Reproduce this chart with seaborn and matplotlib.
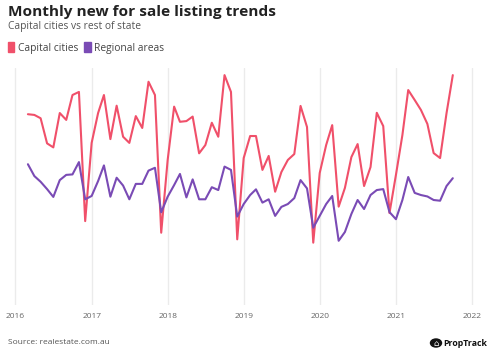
import numpy as np
import pandas as pd
import matplotlib
matplotlib.use("Agg")
import matplotlib.pyplot as plt
import matplotlib.patches as mpatches
import seaborn as sns

# monthly points, Mar 2016 .. Oct 2021 (index, y axis unlabelled in the original)
months = pd.date_range("2016-03-01", "2021-10-01", freq="MS")

capital = [
    80.5, 80.2, 78.8, 68.2, 66.5, 81.0, 78.1, 88.6, 89.9, 35.4,
    68.4, 81.0, 88.6, 70.0, 84.1, 71.0, 68.4, 79.7, 74.7, 94.2, 88.6, 30.5,
    61.2, 83.7, 77.3, 77.6, 79.5, 64.0, 67.5, 76.9, 71.0, 97.0, 89.9, 27.7,
    62.0, 71.3, 71.3, 57.0, 62.9, 47.8, 56.1, 61.2, 63.7, 84.0, 75.1, 26.3,
    55.7, 67.5, 75.9, 41.5, 49.4, 62.4, 67.9, 50.2, 58.2, 81.1, 75.5, 38.8,
    54.9, 71.7, 90.7, 86.5, 82.3, 76.4, 64.1, 62.0, 81.0, 97.0,
]
regional = [
    59.4, 54.4, 52.0, 48.9, 45.6, 52.7, 54.9, 55.1, 60.3, 44.6,
    46.0, 52.3, 58.9, 45.7, 53.7, 50.4, 44.6, 51.1, 51.1, 56.7, 57.9, 39.1,
    45.7, 50.6, 55.3, 45.4, 53.0, 44.6, 44.6, 49.7, 48.5, 58.4, 57.0, 37.3,
    42.6, 46.4, 48.8, 43.2, 44.6, 37.6, 41.4, 42.6, 45.1, 52.7, 49.2, 32.6,
    37.6, 42.6, 46.0, 27.1, 30.8, 38.4, 44.3, 40.5, 46.4, 48.5, 48.9, 39.2,
    36.2, 44.3, 54.0, 47.3, 46.4, 45.8, 44.3, 44.0, 50.2, 53.5,
]
series_names = ["Capital cities", "Regional areas"]
colors = ["#f0506a", "#7a4bb5"]
year_ticks = pd.date_range("2016-01-01", "2022-01-01", freq="YS")

df = pd.concat([
    pd.DataFrame({"date": months, "value": capital, "area": series_names[0]}),
    pd.DataFrame({"date": months, "value": regional, "area": series_names[1]}),
])

sns.set_theme(style="white")
plt.rcParams["font.family"] = ["Open Sans", "DejaVu Sans"]

fig = plt.figure(figsize=(4.91, 3.58), dpi=100)
ax = fig.add_axes([5 / 491, (358 - 305) / 358, 478 / 491, 237 / 358])

sns.lineplot(data=df, x="date", y="value", hue="area", palette=colors,
             linewidth=1.5, ax=ax, legend=False)

ax.set_xlim(year_ticks[0] - pd.Timedelta(days=50), year_ticks[-1] + pd.Timedelta(days=53))
ax.set_ylim(0, 100)
ax.set_xticks(year_ticks)
ax.set_xticklabels([str(d.year) for d in year_ticks], fontsize=6, color="#666666")
ax.set_yticks([])
ax.set_xlabel("")
ax.set_ylabel("")
ax.grid(axis="x", color="#ebebeb", linewidth=1)
ax.set_axisbelow(True)
for s in ax.spines.values():
    s.set_visible(False)
ax.tick_params(axis="x", length=0, pad=6)

fig.text(8 / 491, 1 - 12 / 358, "Monthly new for sale listing trends", fontsize=11.1,
         fontweight="bold", color="#222222", va="center")
fig.text(8 / 491, 1 - 27 / 358, "Capital cities vs rest of state", fontsize=7.4,
         color="#555555", va="center")

handles = [mpatches.Patch(color=c) for c in colors]
fig.legend(handles, series_names, loc="center left", bbox_to_anchor=(4 / 491, 1 - 48 / 358),
           ncol=2, frameon=False, fontsize=7.4, handlelength=0.6, handleheight=1.1,
           handletextpad=0.35, columnspacing=0.6, labelcolor="#444444",
           borderaxespad=0.0, borderpad=0.4)

fig.text(8 / 491, 1 - 343 / 358, "Source: realestate.com.au", fontsize=6,
         color="#555555", va="center")

# PropTrack badge
fig.patches.append(mpatches.Circle((436 / 491, 1 - 343 / 358), 5.5 / 491,
                                   transform=fig.transFigure, color="#111111"))
fig.text(436 / 491, 1 - 343.5 / 358, "\u2302", fontsize=6, color="white",
         ha="center", va="center", family="DejaVu Sans")
fig.text(443 / 491, 1 - 343 / 358, "PropTrack", fontsize=6.3, fontweight="bold",
         color="#111111", va="center")

fig.savefig("out.png", dpi=100)
